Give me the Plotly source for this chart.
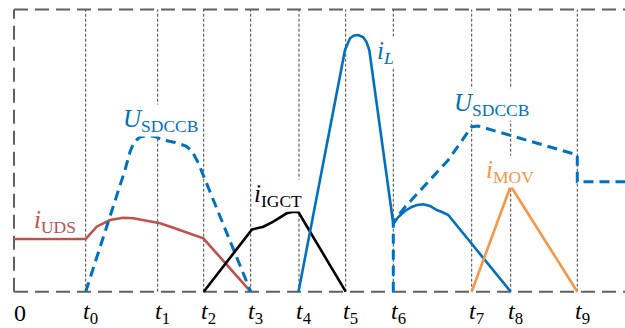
import plotly.graph_objects as go

# switching instants (time axis, arbitrary units)
t_names = ["t0", "t1", "t2", "t3", "t4", "t5", "t6", "t7", "t8", "t9"]
t_vals = [7.17, 14.37, 18.97, 23.67, 28.5, 33.17, 37.93, 45.77, 49.67, 56.33]
t_end = 61.1
y_top = 28.22

# i_UDS
uds_x = [0, 7.17, 8.27, 9.6, 10.93, 11.93, 13.27, 14.6, 15.93, 17.27, 18.93, 23.67]
uds_y = [5.27, 5.27, 6.5, 7.17, 7.4, 7.34, 7.1, 6.84, 6.4, 5.9, 5.34, 0]

# U_SDCCB (first interval)
u1_x = [7.17, 11.1, 11.6, 12.0, 12.6, 13.3, 14.1, 14.9, 16.1, 17.2, 17.8, 18.43, 23.67]
u1_y = [0, 12.17, 13.97, 14.97, 15.47, 15.62, 15.52, 15.17, 14.92, 14.57, 14.07, 12.87, 0]

# i_IGCT
igct_x = [18.97, 23.8, 24.93, 25.93, 27.27, 27.93, 28.45, 33.17]
igct_y = [0, 6.22, 6.5, 7.0, 7.84, 8.0, 7.94, 0]

# i_L
il_x = [28.45, 33.1, 33.6, 34.0, 34.43, 34.93, 35.25, 35.53, 37.93, 38.43, 39.1, 39.77,
        40.3, 40.93, 41.6, 42.27, 42.8, 43.43, 49.67]
il_y = [0, 24.17, 25.34, 25.62, 25.67, 25.44, 24.97, 24.17, 6.77, 7.47, 8.07, 8.47,
        8.67, 8.74, 8.57, 8.17, 7.97, 7.67, 0]

# U_SDCCB (second interval)
u2_x = [37.93, 37.93, 39.1, 43.43, 45.77, 46.43, 56.33, 56.33, 61.1]
u2_y = [0, 6.97, 8.47, 13.17, 16.5, 16.57, 13.67, 11.0, 11.0]

# i_MOV
mov_x = [45.77, 49.67, 56.33]
mov_y = [0, 10.57, 0]

BLUE = "#0070C0"
RED = "#C0504D"
ORANGE = "#F79646"
FONT = "Liberation Serif"

fig = go.Figure()

def add(x, y, color, dash="solid", width=2.6):
    fig.add_trace(go.Scatter(x=x, y=y, mode="lines", cliponaxis=False,
                             line=dict(color=color, width=width, dash=dash),
                             hoverinfo="skip", showlegend=False))

add(uds_x, uds_y, RED)
add(u1_x, u1_y, BLUE, dash="10px,6px", width=3)
add(igct_x, igct_y, "black")
add(il_x, il_y, BLUE)
add(u2_x, u2_y, BLUE, dash="10px,6px", width=3)
add(mov_x, mov_y, ORANGE)

shapes = []
for tv in t_vals:
    shapes.append(dict(type="line", xref="x", yref="y", x0=tv, x1=tv, y0=0, y1=y_top,
                       line=dict(color="#444444", width=1, dash="3px,2px"), layer="below"))
frame = dict(color="#606060", width=2, dash="14px,7px")
shapes.append(dict(type="line", xref="x", yref="y", x0=0, x1=0, y0=0, y1=y_top, line=frame, layer="below"))
shapes.append(dict(type="line", xref="x", yref="y", x0=0, x1=t_end, y0=y_top, y1=y_top, line=frame, layer="below"))
shapes.append(dict(type="line", xref="x", yref="y", x0=0, x1=t_end, y0=0, y1=0, line=frame, layer="below"))

annotations = []
def label(x, y, text, color, size=25):
    annotations.append(dict(x=x, y=y, xref="x", yref="y", text=text, showarrow=False,
                            font=dict(family=FONT, size=size, color=color),
                            bgcolor="white", borderpad=0, xanchor="center", yanchor="middle"))

label(4.1, 7.07, "<i>i</i><sub>UDS</sub>", RED)
label(14.6, 17.17, "<i>U</i><sub>SDCCB</sub>", BLUE)
label(26.4, 9.67, "<i>i</i><sub>IGCT</sub>", "black")
label(37.15, 23.9, "<i>i</i><sub><i>L</i></sub>", BLUE)
label(47.75, 18.77, "<i>U</i><sub>SDCCB</sub>", BLUE)
label(49.6, 12.07, "<i>i</i><sub>MOV</sub>", ORANGE)

# axis labels
TICK_SIZE = 24
annotations.append(dict(x=0, y=-2.1, xref="x", yref="y", text="0", showarrow=False,
                        font=dict(family=FONT, size=TICK_SIZE, color="black"),
                        xanchor="left", yanchor="middle", xshift=-2))
for name, tv in zip(t_names, t_vals):
    annotations.append(dict(x=tv, y=-2.1, xref="x", yref="y",
                            text="<i>t</i><sub>" + name[1:] + "</sub>", showarrow=False,
                            font=dict(family=FONT, size=TICK_SIZE, color="black"),
                            xanchor="center", yanchor="middle", xshift=5))

fig.update_layout(
    width=625, height=328,
    margin=dict(l=0, r=0, t=0, b=0),
    paper_bgcolor="white", plot_bgcolor="white",
    xaxis=dict(range=[-1.4, 61.1], visible=False, fixedrange=True),
    yaxis=dict(range=[-3.63, 29.17], visible=False, fixedrange=True),
    shapes=shapes, annotations=annotations,
)

fig.write_html("out.html")
